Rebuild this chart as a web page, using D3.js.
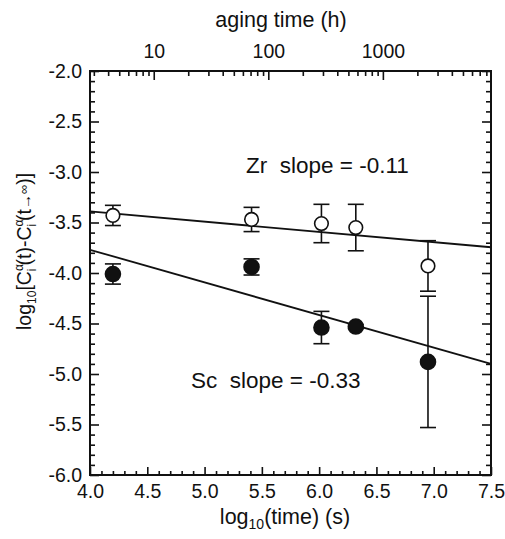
<!DOCTYPE html>
<html>
<head>
<meta charset="utf-8">
<script src="https://cdn.jsdelivr.net/npm/d3@7"></script>
<style>
  body { margin: 0; background: #fff; }
  text { font-family: "Liberation Sans", Arial, sans-serif; fill: #111; }
</style>
</head>
<body>
<div id="graphicContainer"></div>
<script>
// log10(time) in seconds for each aging step
var logTime = [4.20, 5.41, 6.02, 6.32, 6.95]

// Zr (open circles)
var zrValues = [-3.43, -3.47, -3.51, -3.55, -3.93]
var zrErrors = [0.10, 0.12, 0.19, 0.23, 0.25]

// Sc (filled circles)
var scValues = [-4.01, -3.94, -4.54, -4.53, -4.88]
var scErrors = [0.10, 0.08, 0.16, 0.02, 0.65]

// fitted lines, value at x = 4.0 and x = 7.5
var fitX = [4.0, 7.5]
var zrFit = [-3.39, -3.745]
var scFit = [-3.77, -4.90]

var bottomTicks = [4.0, 4.5, 5.0, 5.5, 6.0, 6.5, 7.0, 7.5]
var leftTicks = [-2.0, -2.5, -3.0, -3.5, -4.0, -4.5, -5.0, -5.5, -6.0]
var hourTicks = [10, 100, 1000]

function init() {
	var width = 505, height = 539
	var margin = {top: 71, right: 14, bottom: 64, left: 90}
	var w = width - margin.left - margin.right
	var h = height - margin.top - margin.bottom

	var svg = d3.select("#graphicContainer").append("svg")
		.attr("width", width)
		.attr("height", height)

	var g = svg.append("g").attr("transform", "translate(" + margin.left + "," + margin.top + ")")

	var x = d3.scaleLinear().domain([4.0, 7.5]).range([0, w])
	var y = d3.scaleLinear().domain([-6.0, -2.0]).range([h, 0])
	// top axis: aging time in hours, log10(h*3600)
	var xh = d3.scaleLog().domain([Math.pow(10, 4) / 3600, Math.pow(10, 7.5) / 3600]).range([0, w])

	// plain hyphen instead of d3's unicode minus
	var fmt = d => d3.format(".1f")(d).replace("−", "-")

	var minorX = d3.range(40, 76).map(d => d / 10).filter(d => bottomTicks.indexOf(d) < 0)
	var minorY = d3.range(-60, -19).map(d => d / 10).filter(d => leftTicks.indexOf(d) < 0)
	var minorH = []
	;[1, 10, 100, 1000].forEach(function(p) {
		for (var k = 2; k <= 9; k++) {
			var v = p * k
			if (v >= xh.domain()[0] && v <= xh.domain()[1]) minorH.push(v)
		}
	})

	function style(sel) {
		sel.select(".domain").remove()
		sel.selectAll("line").attr("stroke", "#111").attr("stroke-width", 1.6)
		sel.selectAll("text").style("font-size", "19.5px").attr("fill", "#111")
	}

	// bottom axis
	g.append("g").attr("transform", "translate(0," + h + ")")
		.call(d3.axisBottom(x).tickValues(minorX).tickSize(-4).tickFormat(""))
		.call(style)
	g.append("g").attr("transform", "translate(0," + h + ")")
		.call(d3.axisBottom(x).tickValues(bottomTicks).tickSize(-8).tickPadding(9).tickFormat(fmt))
		.call(style)

	// left axis
	g.append("g")
		.call(d3.axisLeft(y).tickValues(minorY).tickSize(-5).tickFormat(""))
		.call(style)
	g.append("g")
		.call(d3.axisLeft(y).tickValues(leftTicks).tickSize(-9).tickPadding(8).tickFormat(fmt))
		.call(style)

	// right axis (ticks only)
	g.append("g").attr("transform", "translate(" + w + ",0)")
		.call(d3.axisRight(y).tickValues(minorY).tickSize(-5).tickFormat(""))
		.call(style)
	g.append("g").attr("transform", "translate(" + w + ",0)")
		.call(d3.axisRight(y).tickValues(leftTicks).tickSize(-9).tickFormat(""))
		.call(style)

	// top axis in hours
	g.append("g")
		.call(d3.axisTop(xh).tickValues(minorH).tickSize(-5).tickFormat(""))
		.call(style)
	g.append("g")
		.call(d3.axisTop(xh).tickValues(hourTicks).tickSize(-9).tickPadding(13).tickFormat(d3.format("d")))
		.call(style)

	// frame
	g.append("rect")
		.attr("width", w).attr("height", h)
		.attr("fill", "none").attr("stroke", "#111").attr("stroke-width", 2)

	svg.append("text")
		.attr("x", 281).attr("y", 27)
		.attr("text-anchor", "middle")
		.style("font-size", "21.5px")
		.text("aging time (h)")

	var xl = svg.append("text")
		.attr("x", 285).attr("y", 524)
		.attr("text-anchor", "middle")
		.style("font-size", "21.5px")
	xl.append("tspan").text("log")
	xl.append("tspan").attr("dy", 5).style("font-size", "14px").text("10")
	xl.append("tspan").attr("dy", -5).text("(time) (s)")

	var yl = svg.append("text")
		.attr("transform", "translate(31,330) rotate(-90)")
		.style("font-size", "19.5px")
	yl.append("tspan").text("log")
	yl.append("tspan").attr("dy", 5).style("font-size", "12px").text("10")
	yl.append("tspan").attr("dy", -5).text("[C")
	yl.append("tspan").attr("dy", -8).style("font-size", "12px").text("α")
	yl.append("tspan").attr("dx", -7).attr("dy", 13).style("font-size", "12px").text("i")
	yl.append("tspan").attr("dx", 3).attr("dy", -5).text("(t)-C")
	yl.append("tspan").attr("dy", -8).style("font-size", "12px").text("α")
	yl.append("tspan").attr("dx", -7).attr("dy", 13).style("font-size", "12px").text("i")
	yl.append("tspan").attr("dx", 3).attr("dy", -5).text("(t")
	yl.append("tspan").style("font-size", "15px").style("font-weight", "bold").text("→")
	yl.append("tspan").attr("dy", -3).style("font-size", "13px").text("∞")
	yl.append("tspan").attr("dy", 3).text(")]")

	// fit lines
	var plot = g.append("g")
	var line = d3.line().x(d => x(d[0])).y(d => y(d[1]))
	;[zrFit, scFit].forEach(function(f) {
		plot.append("path")
			.datum(fitX.map((d, i) => [d, f[i]]))
			.attr("d", line)
			.attr("fill", "none").attr("stroke", "#111").attr("stroke-width", 1.8)
	})

	function drawSeries(values, errors, filled) {
		var data = logTime.map((d, i) => ({x: d, y: values[i], e: errors[i]}))
		var s = plot.append("g")
		var eb = s.selectAll(".eb").data(data).enter().append("g")
		eb.append("line")
			.attr("x1", d => x(d.x)).attr("x2", d => x(d.x))
			.attr("y1", d => y(d.y - d.e)).attr("y2", d => y(d.y + d.e))
			.attr("stroke", "#111").attr("stroke-width", 1.6)
		;[-1, 1].forEach(function(sgn) {
			eb.append("line")
				.attr("x1", d => x(d.x) - 8).attr("x2", d => x(d.x) + 8)
				.attr("y1", d => y(d.y + sgn * d.e)).attr("y2", d => y(d.y + sgn * d.e))
				.attr("stroke", "#111").attr("stroke-width", 1.6)
		})
		s.selectAll("circle").data(data).enter().append("circle")
			.attr("cx", d => x(d.x)).attr("cy", d => y(d.y))
			.attr("r", filled ? 7.5 : 6.8)
			.attr("fill", filled ? "#111" : "#fff")
			.attr("stroke", "#111").attr("stroke-width", 1.6)
	}
	drawSeries(zrValues, zrErrors, false)
	drawSeries(scValues, scErrors, true)

	svg.append("text")
		.attr("x", 246).attr("y", 173)
		.attr("xml:space", "preserve")
		.style("font-size", "22.5px")
		.text("Zr  slope = -0.11")
	svg.append("text")
		.attr("x", 191).attr("y", 388)
		.attr("xml:space", "preserve")
		.style("font-size", "22.5px")
		.text("Sc  slope = -0.33")
}

init()
</script>
</body>
</html>
